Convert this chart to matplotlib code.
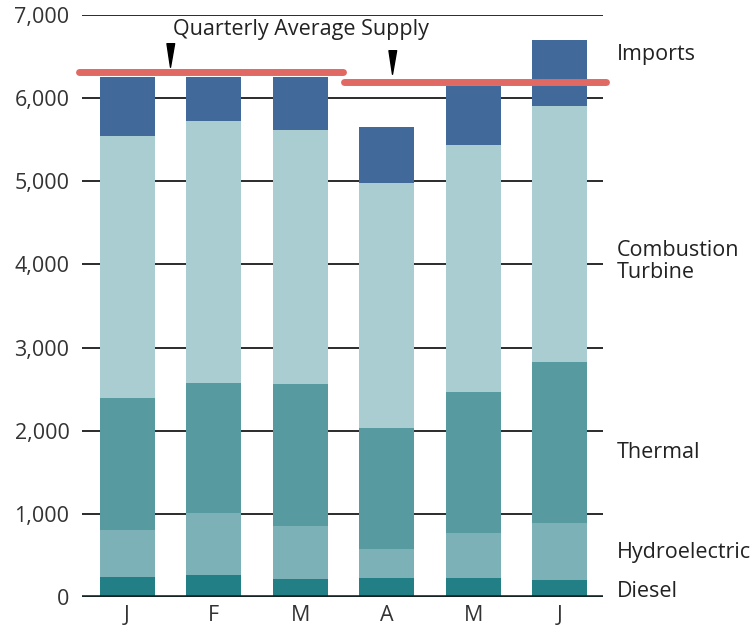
import matplotlib
matplotlib.use("Agg")
import matplotlib.pyplot as plt
from matplotlib.path import Path
import numpy as np

plt.rcParams['font.family'] = ['Open Sans', 'DejaVu Sans']

months = ["J", "F", "M", "A", "M", "J"]
diesel = [244, 265, 220, 225, 225, 205]
hydro_top = [806, 1007, 858, 574, 767, 887]
thermal_top = [2391, 2572, 2560, 2030, 2471, 2824]
ct_top = [5548, 5720, 5620, 4978, 5439, 5900]
total = [6255, 6255, 6255, 5648, 6140, 6703]

diesel = np.array(diesel)
hydro = np.array(hydro_top) - np.array(diesel)
thermal = np.array(thermal_top) - np.array(hydro_top)
ct = np.array(ct_top) - np.array(thermal_top)
imports = np.array(total) - np.array(ct_top)

quarter_avg = [6320, 6190]
quarter_span = [(-0.56, 2.49), (2.51, 5.53)]
arrow_x = [0.5, 3.06]
arrow_y = [6520, 6440]

series = [("Diesel", diesel, "#237f86"),
          ("Hydroelectric", hydro, "#7db1b8"),
          ("Thermal", thermal, "#579aa0"),
          ("Combustion\nTurbine", ct, "#aacdd2"),
          ("Imports", imports, "#41699a")]
label_y = [72, 541, 1733, 4031, 6522]

FS = 15.5

fig = plt.figure(figsize=(7.56, 6.35), dpi=100)
ax = fig.add_axes([0.1085, 0.0598, 0.6891, 0.9166])

x = np.arange(len(months))
bottom = np.zeros(len(months))
for name, vals, col in series:
    ax.bar(x, vals, bottom=bottom, width=0.635, color=col, zorder=2, linewidth=0)
    bottom = bottom + vals

ax.set_xlim(-0.52, 5.5)
ax.set_ylim(0, 7000)
ax.set_yticks(np.arange(0, 7001, 1000))
ax.set_yticklabels([f"{v:,}" for v in range(0, 7001, 1000)], fontsize=FS, color="#333333")
ax.set_xticks(x)
ax.set_xticklabels(months, fontsize=FS, color="#333333")
ax.tick_params(axis='both', length=0)
ax.tick_params(axis='y', pad=9)
ax.tick_params(axis='x', pad=6)
for s in ax.spines.values():
    s.set_visible(False)
for v in range(1000, 7001, 1000):
    ax.axhline(v, color="#1a1a1a", lw=1.3, zorder=1)
ax.axhline(0, color="#142424", lw=2.6, zorder=3)

for (x0, x1), q in zip(quarter_span, quarter_avg):
    ax.plot([x0, x1], [q, q], color="#e06a63", lw=5, solid_capstyle='round', zorder=4, clip_on=False)

wedge = Path([(-0.3, 1.0), (0.35, 1.0), (0.0, -1.0), (-0.3, 1.0)],
             [Path.MOVETO, Path.LINETO, Path.LINETO, Path.CLOSEPOLY])
ax.plot(arrow_x, arrow_y, linestyle='none', marker=wedge, markersize=17,
        color="black", zorder=5, clip_on=False)

ax.text(2.01, 6830, "Quarterly Average Supply", ha='center', va='center',
        fontsize=FS, color="#222222", zorder=6)

for (name, vals, col), ly in zip(series, label_y):
    ax.annotate(name, xy=(1.027, ly), xycoords=('axes fraction', 'data'),
                ha='left', va='center', fontsize=FS, color="#222222",
                linespacing=1.05, annotation_clip=False)

fig.savefig("out.png", dpi=100)
